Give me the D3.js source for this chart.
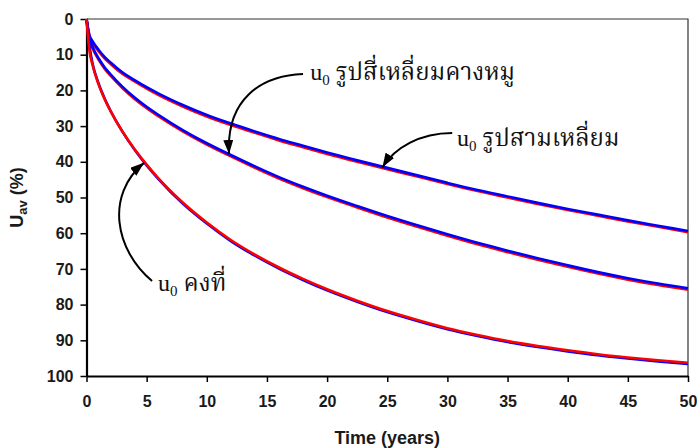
<!DOCTYPE html>
<html>
<head>
<meta charset="utf-8">
<script src="https://cdn.jsdelivr.net/npm/d3@7/dist/d3.min.js"></script>
<style>
  body { margin: 0; background: #fff; }
  .tick text { font-family: "Liberation Sans", Arial, sans-serif; font-weight: bold; font-size: 16px; fill: #1a1a1a; }
</style>
</head>
<body>
<script>
// time (years)
var years = [0, 0.25, 0.5, 1, 1.5, 2, 3, 4, 5, 6, 8, 10, 12, 14, 16, 18, 20, 22.5, 25, 27.5, 30, 32.5, 35, 37.5, 40, 42.5, 45, 47.5, 50];
// u0 รูปสามเหลี่ยม (บนสุด)
var triRed  = [0, 5.0, 6.6, 9.0, 11.0, 12.6, 15.4, 17.5, 19.5, 21.3, 24.5, 27.3, 29.7, 31.9, 34.0, 35.9, 37.8, 40.0, 42.1, 44.1, 46.2, 48.2, 50.0, 51.8, 53.5, 55.1, 56.7, 58.2, 59.7];
var triBlue = [0, 4.6, 6.2, 8.6, 10.6, 12.2, 15.0, 17.1, 19.1, 20.9, 24.1, 26.9, 29.3, 31.5, 33.6, 35.5, 37.4, 39.6, 41.7, 43.8, 45.9, 47.9, 49.7, 51.5, 53.2, 54.8, 56.4, 57.9, 59.4];
// u0 รูปสี่เหลี่ยมคางหมู (กลาง)
var trapRed  = [0, 6.0, 8.2, 11.4, 13.9, 15.9, 19.4, 22.4, 25.0, 27.3, 31.5, 35.2, 38.5, 41.7, 44.7, 47.4, 49.9, 52.8, 55.6, 58.2, 60.7, 63.1, 65.3, 67.4, 69.4, 71.3, 73.0, 74.5, 75.8];
var trapBlue = [0, 5.5, 7.8, 11.0, 13.5, 15.5, 19.0, 22.0, 24.6, 26.9, 31.1, 34.8, 38.1, 41.3, 44.3, 47.0, 49.5, 52.4, 55.2, 57.8, 60.3, 62.7, 64.9, 67.0, 69.0, 70.9, 72.6, 74.1, 75.4];
// u0 คงที่ (ล่างสุด)
var constRed  = [0, 9.0, 12.9, 18.3, 22.4, 25.8, 31.6, 36.5, 40.8, 44.7, 51.4, 57.0, 61.9, 66.0, 69.6, 72.8, 75.7, 78.9, 81.8, 84.3, 86.6, 88.5, 90.2, 91.6, 92.8, 93.9, 94.8, 95.6, 96.3];
var constBlue = [0, 7.6, 12.4, 18.0, 22.2, 25.7, 31.6, 36.6, 41.0, 44.9, 51.7, 57.3, 62.2, 66.3, 69.9, 73.1, 76.0, 79.2, 82.1, 84.6, 86.9, 88.8, 90.5, 91.9, 93.1, 94.2, 95.1, 95.9, 96.6];
// tick labels
var xTicks = [0, 5, 10, 15, 20, 25, 30, 35, 40, 45, 50];
var yTicks = [0, 10, 20, 30, 40, 50, 60, 70, 80, 90, 100];

var svgWidth = 697, svgHeight = 448;
var margin = { top: 19, right: 9, bottom: 72, left: 86.5 };

var svg = d3.select('body').append('svg')
  .attr('width', svgWidth)
  .attr('height', svgHeight);

var x = d3.scaleLinear().domain([0, 50]).range([margin.left, svgWidth - margin.right]);
var y = d3.scaleLinear().domain([0, 100]).range([margin.top, svgHeight - margin.bottom]);

// กรอบด้านบนและด้านขวา
svg.append('path')
  .attr('d', `M${x(0)},${y(0)}H${x(50)}V${y(100)}`)
  .attr('fill', 'none')
  .attr('stroke', '#333')
  .attr('stroke-width', 1.2);

// แกน y
var yAxis = svg.append('g')
  .attr('transform', `translate(${x(0)},0)`)
  .call(d3.axisLeft(y).tickValues(yTicks).tickSize(6).tickSizeOuter(0).tickPadding(7));
yAxis.select('.domain').attr('stroke-width', 2.2).attr('stroke', '#000');
yAxis.selectAll('.tick line').attr('stroke-width', 1.5);

// แกน x
var xAxis = svg.append('g')
  .attr('transform', `translate(0,${y(100)})`)
  .call(d3.axisBottom(x).tickValues(xTicks).tickSize(6).tickSizeOuter(0).tickPadding(14));
xAxis.select('.domain').attr('stroke-width', 2.2).attr('stroke', '#000');
xAxis.selectAll('.tick line').attr('stroke-width', 1.5);

// ชื่อแกน
svg.append('text')
  .attr('x', (x(0) + x(50)) / 2)
  .attr('y', 444)
  .attr('text-anchor', 'middle')
  .style('font-family', '"Liberation Sans", Arial, sans-serif')
  .style('font-weight', 'bold')
  .style('font-size', '18px')
  .style('fill', '#1a1a1a')
  .text('Time (years)');

var yTitle = svg.append('text')
  .attr('transform', `translate(23,${(y(0) + y(100)) / 2}) rotate(-90)`)
  .attr('text-anchor', 'middle')
  .style('font-family', '"Liberation Sans", Arial, sans-serif')
  .style('font-weight', 'bold')
  .style('font-size', '18px')
  .style('fill', '#1a1a1a');
yTitle.append('tspan').text('U');
yTitle.append('tspan').attr('dy', 4).style('font-size', '13px').text('av');
yTitle.append('tspan').attr('dy', -4).text(' (%)');

// เส้นกราฟ
var line = d3.line()
  .x((d, i) => x(years[i]))
  .y(d => y(d))
  .curve(d3.curveMonotoneX);

var curves = [
  { values: triRed, color: '#ff0000' },
  { values: triBlue, color: '#0000ff' },
  { values: trapRed, color: '#ff0000' },
  { values: trapBlue, color: '#0000ff' },
  { values: constBlue, color: '#0000ff' },
  { values: constRed, color: '#ff0000' }
];

svg.append('g').selectAll('path')
  .data(curves)
  .enter().append('path')
  .attr('d', d => line(d.values))
  .attr('fill', 'none')
  .attr('stroke', d => d.color)
  .attr('stroke-width', 2.6);

// หัวลูกศร
svg.append('defs').append('marker')
  .attr('id', 'arrow')
  .attr('markerUnits', 'userSpaceOnUse')
  .attr('viewBox', '0 0 14 10')
  .attr('refX', 14).attr('refY', 5)
  .attr('markerWidth', 14).attr('markerHeight', 10)
  .attr('orient', 'auto')
  .append('path')
  .attr('d', 'M0,0L14,5L0,10Z')
  .attr('fill', '#000');

// ป้ายกำกับ
var notes = [
  { text: ' รูปสี่เหลี่ยมคางหมู', at: [18.6, 17.1], path: [[18.0, 15.4], [14.4, 15.9], [11.6, 22.7], [11.85, 37.8]] },
  { text: ' รูปสามเหลี่ยม', at: [30.8, 35.6], path: [[30.4, 31.9], [27.7, 31.9], [25.6, 36.1], [24.6, 41.5]] },
  { text: ' คงที่', at: [5.95, 76.2], path: [[5.45, 73.4], [2.37, 64.7], [1.54, 49.3], [4.78, 40.3]] }
];

notes.forEach(function (n) {
  var p = n.path.map(d => [x(d[0]), y(d[1])]);
  svg.append('path')
    .attr('d', `M${p[0]}C${p[1]} ${p[2]} ${p[3]}`)
    .attr('fill', 'none')
    .attr('stroke', '#000')
    .attr('stroke-width', 2)
    .attr('marker-end', 'url(#arrow)');
  var t = svg.append('text')
    .attr('x', x(n.at[0]))
    .attr('y', y(n.at[1]))
    .style('font-family', '"Liberation Serif", "Noto Serif Thai", "Times New Roman", serif')
    .style('font-size', '24px')
    .style('fill', '#111');
  t.append('tspan').text('u');
  t.append('tspan').attr('dy', 5).style('font-size', '15px').text('0');
  t.append('tspan').attr('dy', -5).text(n.text);
});
</script>
</body>
</html>
